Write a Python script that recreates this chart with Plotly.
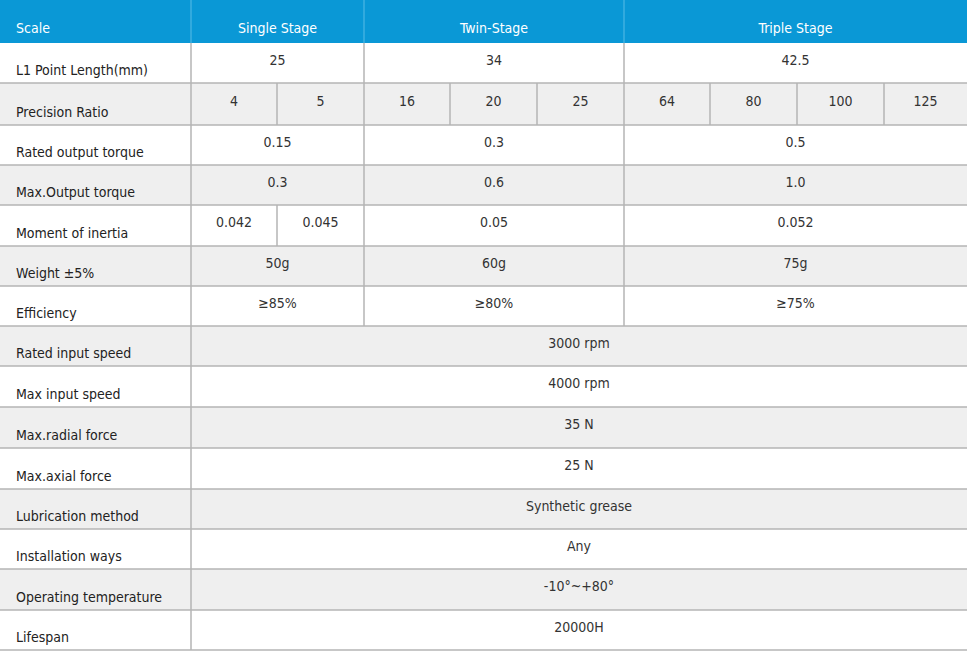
import plotly.graph_objects as go

header = ["Scale", "Single Stage", "Twin-Stage", "Triple Stage"]
header_span = [2, 3, 4]
row_labels = ["L1 Point Length(mm)", "Precision Ratio", "Rated output torque", "Max.Output torque",
              "Moment of inertia", "Weight ±5%", "Efficiency", "Rated input speed", "Max input speed",
              "Max.radial force", "Max.axial force", "Lubrication method", "Installation ways",
              "Operating temperature", "Lifespan"]
l1_length = ["25", "34", "42.5"]
precision_ratio = ["4", "5", "16", "20", "25", "64", "80", "100", "125"]
rated_torque = ["0.15", "0.3", "0.5"]
max_torque = ["0.3", "0.6", "1.0"]
inertia = ["0.042", "0.045", "0.05", "0.052"]
inertia_span = [1, 1, 3, 4]
weight = ["50g", "60g", "75g"]
efficiency = ["≥85%", "≥80%", "≥75%"]
common = ["3000 rpm", "4000 rpm", "35 N", "25 N", "Synthetic grease", "Any", "-10°~+80°", "20000H"]

W, H = 967, 652
sub_edges = [191, 277, 364, 450, 537, 624, 710, 797, 884, 967]
row_edges = [43, 83, 125, 165, 205, 246, 286, 326, 366, 407, 448, 489, 529, 569, 610, 650]

rows = [
    list(zip(l1_length, header_span)),
    [(p, 1) for p in precision_ratio],
    list(zip(rated_torque, header_span)),
    list(zip(max_torque, header_span)),
    list(zip(inertia, inertia_span)),
    list(zip(weight, header_span)),
    list(zip(efficiency, header_span)),
] + [[(c, 9)] for c in common]

shapes = []
tx, ty, tt = [], [], []
lx, ly, lt = [], [], []
line_col = "#b4b4b4"
shapes.append(dict(type="rect", x0=0, x1=W, y0=0, y1=row_edges[0], fillcolor="#0a98d6", line=dict(width=0), layer="below"))
hx, hy, ht = [16], [29], [header[0]]
i = 0
for name, sp in zip(header[1:], header_span):
    x0, x1 = sub_edges[i], sub_edges[i + sp]
    hx.append((x0 + x1) / 2); hy.append(29); ht.append(name)
    shapes.append(dict(type="line", x0=x0, x1=x0, y0=0, y1=row_edges[0], line=dict(color="#3fb0e0", width=1.5)))
    i += sp

for r, (lab, cells) in enumerate(zip(row_labels, rows)):
    y0, y1 = row_edges[r], row_edges[r + 1]
    fill = "#efefef" if r % 2 == 1 else "#ffffff"
    shapes.append(dict(type="rect", x0=0, x1=W, y0=y0, y1=y1, fillcolor=fill, line=dict(width=0), layer="below"))
    shapes.append(dict(type="line", x0=0, x1=W, y0=y1, y1=y1, line=dict(color=line_col, width=1.5)))
    lx.append(16); ly.append(y1 - 12); lt.append(lab)
    i = 0
    for txt, sp in cells:
        x0, x1 = sub_edges[i], sub_edges[i + sp]
        shapes.append(dict(type="line", x0=x0, x1=x0, y0=y0, y1=y1, line=dict(color=line_col, width=1.5)))
        tx.append((x0 + x1) / 2); ty.append((y0 + y1) / 2 - 2); tt.append(txt)
        i += sp

font = "DejaVu Sans Condensed, DejaVu Sans"
fig = go.Figure()
fig.add_trace(go.Scatter(x=hx, y=hy, text=ht, mode="text", textposition=["middle right"] + ["middle center"] * 3,
                         textfont=dict(family=font, size=14, color="white"), hoverinfo="skip"))
fig.add_trace(go.Scatter(x=lx, y=ly, text=lt, mode="text", textposition="middle right",
                         textfont=dict(family=font, size=14, color="#222"), hoverinfo="skip"))
fig.add_trace(go.Scatter(x=tx, y=ty, text=tt, mode="text", textposition="middle center",
                         textfont=dict(family=font, size=14, color="#333"), hoverinfo="skip"))
fig.update_layout(width=W, height=H, margin=dict(l=0, r=0, t=0, b=0), showlegend=False,
                  paper_bgcolor="white", plot_bgcolor="white", shapes=shapes,
                  xaxis=dict(range=[0, W], visible=False, fixedrange=True),
                  yaxis=dict(range=[H, 0], visible=False, fixedrange=True))
fig.write_html("out.html", config={"displayModeBar": False},
               post_script="document.body.style.margin='0';document.body.style.overflow='hidden';")
